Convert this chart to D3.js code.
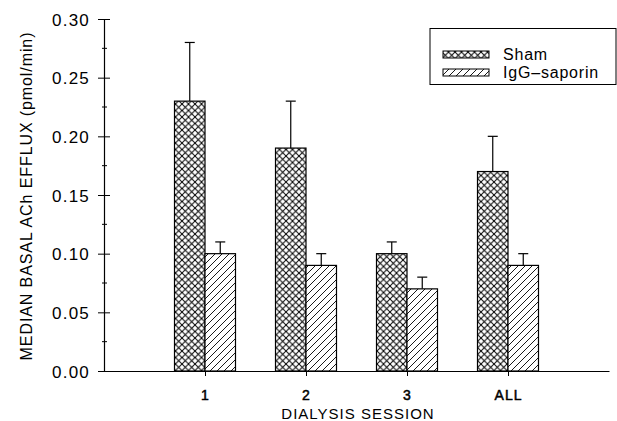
<!DOCTYPE html>
<html><head><meta charset="utf-8">
<script src="https://cdn.jsdelivr.net/npm/d3@7"></script>
<style>
html,body{margin:0;padding:0;background:#fff;}
svg text{font-family:"Liberation Sans",Arial,Helvetica,sans-serif;fill:#000;}
</style></head>
<body>
<svg id="chart" width="617" height="421"></svg>
<script>
const categories = ["1", "2", "3", "ALL"];
const shamValues = [0.23, 0.19, 0.10, 0.17];
const shamErrTop = [0.28, 0.23, 0.11, 0.20];
const iggValues = [0.10, 0.09, 0.07, 0.09];
const iggErrTop = [0.11, 0.10, 0.08, 0.10];
const seriesNames = ["Sham", "IgG\u2013saporin"];
const yTicks = [0, 0.05, 0.10, 0.15, 0.20, 0.25, 0.30];
const yMinorTicks = [0.025, 0.075, 0.125, 0.175, 0.225, 0.275];

const svg = d3.select("#chart");
const defs = svg.append("defs");
const px = defs.append("pattern").attr("id","cross").attr("patternUnits","userSpaceOnUse")
  .attr("width",6.5).attr("height",6.5);
px.append("rect").attr("width",6.5).attr("height",6.5).attr("fill","#fff");
px.append("path").attr("d","M0,0L6.5,6.5M6.5,0L0,6.5").attr("stroke","#000").attr("stroke-width",1);
const pd = defs.append("pattern").attr("id","diag").attr("patternUnits","userSpaceOnUse")
  .attr("width",7).attr("height",7);
pd.append("rect").attr("width",7).attr("height",7).attr("fill","#fff");
pd.append("path").attr("d","M-1,1L1,-1M0,7L7,0M6,8L8,6").attr("stroke","#000").attr("stroke-width",0.9);

const x = d3.scaleLinear().domain([0, 5]).range([104, 609]);
const y = d3.scaleLinear().domain([0, 0.30]).range([371, 19]);
const bw = 30.5;

// Y axis
const yAxis = d3.axisLeft(y).tickValues(yTicks).tickFormat(d3.format(".2f")).tickSize(6).tickSizeOuter(0).tickPadding(8);
const gy = svg.append("g").attr("transform","translate(104,0)").call(yAxis);
gy.select(".domain").attr("stroke","#000").attr("stroke-width",1.2);
gy.selectAll(".tick line").attr("stroke","#000").attr("x2",-6).attr("x1",6);
gy.selectAll(".tick text").attr("font-size",17).attr("letter-spacing",1.2).attr("font-family","Liberation Sans, Arial, sans-serif").attr("dy","0.36em");
svg.append("g").selectAll("line").data(yMinorTicks).join("line")
  .attr("x1",102).attr("x2",107).attr("y1",d=>y(d)).attr("y2",d=>y(d)).attr("stroke","#000");

// X axis
const xAxis = d3.axisBottom(x).tickValues([1,2,3,4]).tickFormat((d,i)=>categories[i]).tickSize(5).tickSizeOuter(0).tickPadding(14);
const gx = svg.append("g").attr("transform","translate(0,371)").call(xAxis);
gx.select(".domain").attr("stroke","#000").attr("stroke-width",1.2);
gx.selectAll(".tick line").attr("stroke","#000");
gx.selectAll(".tick text").attr("font-size",14).attr("stroke","#000").attr("stroke-width",0.5).attr("letter-spacing",1);

// bars
const centers = categories.map((c,i)=>i+1);
const groups = [
  {vals: shamValues, errs: shamErrTop, fill: "url(#cross)", off: -bw},
  {vals: iggValues, errs: iggErrTop, fill: "url(#diag)", off: 0}
];
groups.forEach(g => {
  const gg = svg.append("g");
  gg.selectAll("line.err").data(centers).join("line").attr("class","err")
    .attr("x1",(d,i)=>x(d)+g.off+bw/2).attr("x2",(d,i)=>x(d)+g.off+bw/2)
    .attr("y1",(d,i)=>y(g.vals[i])).attr("y2",(d,i)=>y(g.errs[i])).attr("stroke","#000").attr("stroke-width",1.2);
  gg.selectAll("line.cap").data(centers).join("line").attr("class","cap")
    .attr("x1",(d,i)=>x(d)+g.off+bw/2-5).attr("x2",(d,i)=>x(d)+g.off+bw/2+5)
    .attr("y1",(d,i)=>y(g.errs[i])).attr("y2",(d,i)=>y(g.errs[i])).attr("stroke","#000").attr("stroke-width",1.2);
  gg.selectAll("rect").data(centers).join("rect")
    .attr("x",d=>x(d)+g.off).attr("width",bw)
    .attr("y",(d,i)=>y(g.vals[i])).attr("height",(d,i)=>y(0)-y(g.vals[i]))
    .attr("fill",g.fill).attr("stroke","#000").attr("stroke-width",1.2);
});

// axis titles
svg.append("text").attr("x",358).attr("y",419).attr("text-anchor","middle")
  .attr("font-size",15).attr("letter-spacing",1).text("DIALYSIS SESSION");
svg.append("text").attr("transform","translate(32,196) rotate(-90)").attr("text-anchor","middle")
  .attr("font-size",16).attr("letter-spacing",0.9).text("MEDIAN BASAL ACh EFFLUX (pmol/min)");

// legend
const lg = svg.append("g");
lg.append("rect").attr("x",430).attr("y",28.5).attr("width",186).attr("height",56)
  .attr("fill","#fff").attr("stroke","#000").attr("stroke-width",1);
const fills = ["url(#cross)","url(#diag)"];
seriesNames.forEach((n,i)=>{
  lg.append("rect").attr("x",443).attr("y",51+i*18).attr("width",46).attr("height",7)
    .attr("fill",fills[i]).attr("stroke","#000").attr("stroke-width",1);
  lg.append("text").attr("x",503).attr("y",60+i*18).attr("font-size",16).attr("letter-spacing",0.8).text(n);
});
</script>
</body></html>
